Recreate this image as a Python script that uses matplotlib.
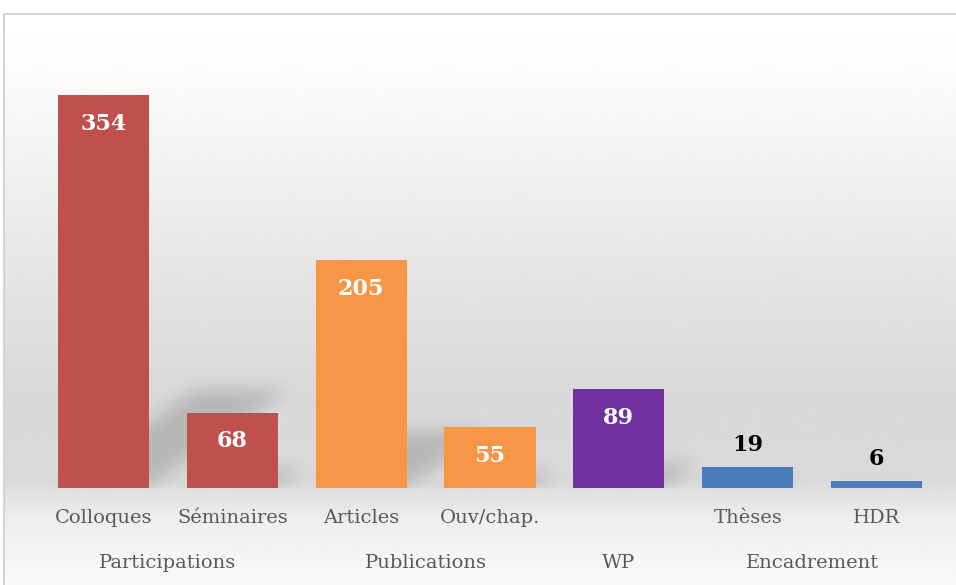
import numpy as np
import matplotlib
matplotlib.use("Agg")
import matplotlib.pyplot as plt
from matplotlib.patches import Rectangle

# Données
categories = ["Colloques", "Séminaires", "Articles", "Ouv/chap.", "WP", "Thèses", "HDR"]
etiquettes = ["Colloques", "Séminaires", "Articles", "Ouv/chap.", "", "Thèses", "HDR"]
valeurs = [354, 68, 205, 55, 89, 19, 6]
couleurs = ["#C0504D", "#C0504D", "#F79646", "#F79646", "#7030A0", "#4A7EBB", "#4A7EBB"]
groupes = ["Participations", "Publications", "WP", "Encadrement"]
groupes_pos = [0.5, 2.5, 4, 5.5]
labels_dedans = [True, True, True, True, True, False, False]

W, H = 956, 585
fig = plt.figure(figsize=(W / 100, H / 100), dpi=100)
fig.patch.set_facecolor("white")

# Fond en dégradé (coordonnées pixels)
bg = fig.add_axes([0, 0, 1, 1], zorder=-1)
bg.set_xlim(0, W)
bg.set_ylim(H, 0)
bg.axis("off")
ys = np.arange(14, H + 1)
stops_y = [14, 60, 130, 230, 300, 400, 480, 520, 585]
stops_v = [255, 253, 246, 234, 226, 216, 218, 238, 250]
gris = np.interp(ys, stops_y, stops_v) / 255
grad = np.repeat(gris[:, None], 2, axis=1)
bg.imshow(grad, cmap="gray", vmin=0, vmax=1, extent=(4, W, H, 14),
          aspect="auto", interpolation="bilinear")
bg.add_patch(Rectangle((4, 14), W, H, facecolor="none", edgecolor="#d4d4d4", lw=1.5))

# Axe principal
base_px, haut_px = 488, 30.7
ax = fig.add_axes([39 / W, (H - base_px) / H, 902 / W, (base_px - haut_px) / H])
ax.patch.set_visible(False)
ymax = 412
ax.set_xlim(-0.5, 6.5)
ax.set_ylim(0, ymax)
x = np.arange(len(categories))
largeur = 0.707

# Ombres en perspective (floues)
nx, ny = 902, 457
gx = np.linspace(-0.5, 6.5, nx)
gy = np.linspace(0, ymax, ny)
XX, YY = np.meshgrid(gx, gy)
masque = np.zeros_like(XX)
px_par_unite_x = 902 / 7
px_par_unite_y = 457.3 / ymax
for i, v in enumerate(valeurs):
    hs = 0.25 * v
    dx = 0.35 * v * px_par_unite_y / px_par_unite_x
    frac = np.clip(YY / hs, 0, 1)
    gauche = x[i] - largeur / 2 + dx * frac
    droite = x[i] + largeur / 2 + dx * frac
    m = (YY <= hs) & (XX >= gauche) & (XX <= droite)
    masque = np.maximum(masque, m.astype(float))

sigma = 9
k = np.arange(-3 * sigma, 3 * sigma + 1)
noyau = np.exp(-k ** 2 / (2 * sigma ** 2))
noyau /= noyau.sum()
flou = np.apply_along_axis(lambda r: np.convolve(r, noyau, mode="same"), 1, masque)
flou = np.apply_along_axis(lambda c: np.convolve(c, noyau, mode="same"), 0, flou)
ombre = np.zeros((ny, nx, 4))
ombre[..., 3] = flou * 0.16
ax.imshow(ombre, extent=(-0.5, 6.5, 0, ymax), origin="lower", aspect="auto",
          zorder=1, interpolation="bilinear")

ax.bar(x, valeurs, width=largeur, color=couleurs, zorder=2)

for i, v in enumerate(valeurs):
    if labels_dedans[i]:
        ax.text(x[i], v - 26, str(v), ha="center", va="center", color="white",
                fontsize=16, fontweight="bold", family="DejaVu Serif", zorder=3)
    else:
        ax.text(x[i], v + 20, str(v), ha="center", va="center", color="black",
                fontsize=16, fontweight="bold", family="DejaVu Serif", zorder=3)

trans = ax.get_xaxis_transform()
for i, c in enumerate(etiquettes):
    ax.text(x[i], -30 / 457.3, c, transform=trans, ha="center", va="center",
            color="#595959", fontsize=14, family="DejaVu Serif")
for g, p in zip(groupes, groupes_pos):
    ax.text(p, -75 / 457.3, g, transform=trans, ha="center", va="center",
            color="#595959", fontsize=14, family="DejaVu Serif")

ax.set_xticks([])
ax.set_yticks([])
for s in ax.spines.values():
    s.set_visible(False)

fig.savefig("out.png", dpi=100)
